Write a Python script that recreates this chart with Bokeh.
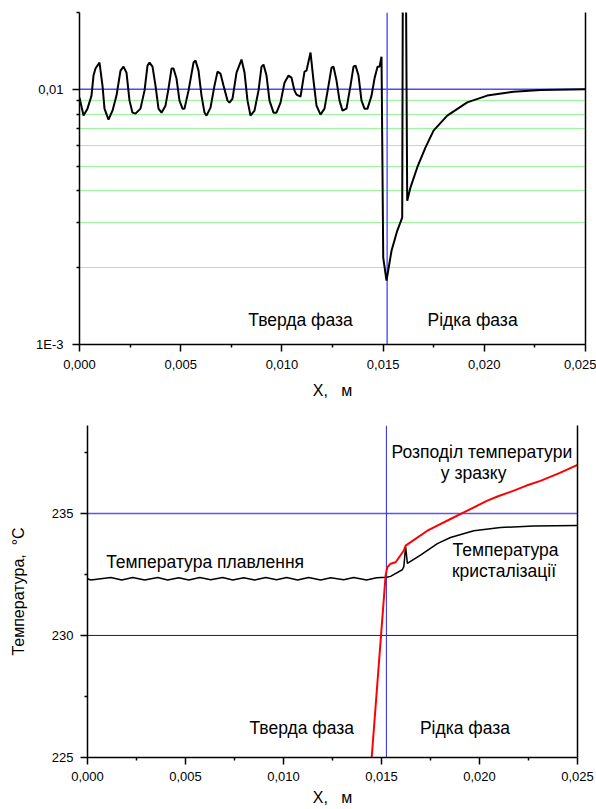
import json
from bokeh.plotting import figure
from bokeh.layouts import column, row
from bokeh.models import (Range1d, FixedTicker, CustomJSTickFormatter, Span, Label,
                          LogAxis, LinearAxis)
from bokeh.embed import file_html
from bokeh.resources import INLINE

FONT = "Liberation Sans"

# ---------------- data: top chart (log scale) ----------------
top_x_mm = [0, 0.198, 0.395, 0.593, 0.692, 0.791, 0.988, 1.136, 1.235, 1.433,
            1.630, 1.828, 2.026, 2.174, 2.322, 2.471, 2.619, 2.767, 3.014, 3.212,
            3.360, 3.459, 3.607, 3.755, 3.903, 4.052, 4.249, 4.397, 4.546, 4.645,
            4.793, 4.941, 5.089, 5.188, 5.386, 5.633, 5.732, 5.880, 6.028, 6.176,
            6.275, 6.473, 6.670, 6.819, 6.967, 7.115, 7.313, 7.412, 7.560, 7.758,
            8.005, 8.153, 8.301, 8.449, 8.647, 8.844, 8.993, 9.091, 9.240, 9.388,
            9.586, 9.734, 9.932, 10.129, 10.327, 10.475, 10.623, 10.722, 10.920, 11.117,
            11.216, 11.414, 11.562, 11.710, 11.908, 12.105, 12.303, 12.451, 12.550, 12.698,
            12.847, 12.995, 13.192, 13.390, 13.538, 13.637, 13.785, 13.933, 14.082, 14.230,
            14.428, 14.576, 14.724, 14.823, 14.922, 15.006, 15.169, 15.416, 15.697, 15.944,
            15.984, 16.108, 16.192, 16.355, 16.686, 17.096, 17.492, 18.169, 19.157, 20.145,
            21.444, 22.779, 25.0]
top_y = [0.00928, 0.00789, 0.00840, 0.00945, 0.01132, 0.01206, 0.01273, 0.01034, 0.00840, 0.00761,
         0.00825, 0.00945, 0.01184, 0.01227, 0.01163, 0.00903, 0.00810, 0.00803, 0.00840, 0.00988,
         0.01239, 0.01273, 0.01227, 0.01034, 0.00840, 0.00810, 0.00863, 0.01006, 0.01206, 0.01206,
         0.01102, 0.00903, 0.00840, 0.00840, 0.00988, 0.01273, 0.01296, 0.01184, 0.00945, 0.00810,
         0.00789, 0.00848, 0.01034, 0.01173, 0.01152, 0.01034, 0.00903, 0.00887, 0.00920, 0.01163,
         0.01308, 0.01163, 0.00903, 0.00789, 0.00825, 0.00988, 0.01227, 0.01250, 0.01132, 0.00903,
         0.00810, 0.00810, 0.00887, 0.01062, 0.01132, 0.01111, 0.00988, 0.00953, 0.00936, 0.01173,
         0.01184, 0.01393, 0.01082, 0.00863, 0.00796, 0.00840, 0.01034, 0.01216, 0.01227, 0.01082,
         0.00903, 0.00825, 0.00840, 0.01034, 0.01227, 0.01239, 0.01132, 0.00903, 0.00840, 0.00840,
         0.00945, 0.01102, 0.01227, 0.01227, 0.01343, 0.00219, 0.00178, 0.00233, 0.00279, 0.00314,
         0.05, 0.05, 0.00366, 0.00413, 0.00494, 0.00592, 0.00689, 0.00789, 0.00889, 0.00945,
         0.00979, 0.00994, 0.0100]

# ---------------- data: bottom chart (temperature) ----------------
melt_x_mm = [0.0, 0.17, 1.19, 1.75, 2.31, 2.92, 3.58, 4.09, 4.66, 5.17,
             5.73, 6.29, 6.90, 7.41, 7.97, 8.53, 9.09, 9.65, 10.16, 10.72,
             11.28, 11.90, 12.41, 13.07, 13.58, 14.24, 14.75, 15.26, 15.46, 16.06,
             16.14, 16.23, 16.32, 16.99, 17.85, 18.52, 19.71, 21.07, 22.76, 25.0]
melt_t = [232.32, 232.27, 232.37, 232.27, 232.37, 232.27, 232.37, 232.27, 232.36, 232.27,
          232.37, 232.28, 232.37, 232.27, 232.36, 232.27, 232.37, 232.28, 232.37, 232.27,
          232.37, 232.27, 232.36, 232.28, 232.37, 232.27, 232.36, 232.38, 232.42, 232.69,
          232.82, 233.64, 232.95, 233.29, 233.76, 234.01, 234.29, 234.42, 234.48, 234.50]

sample_x_mm = [14.50, 15.21, 15.30, 15.47, 15.72, 16.14, 16.23, 16.49, 17.34, 17.67,
               18.52, 19.38, 20.40, 20.95, 21.75, 22.40, 23.11, 24.10, 25.0]
sample_t = [225.0, 232.46, 232.80, 232.94, 233.00, 233.48, 233.68, 233.82, 234.29, 234.43,
            234.77, 235.11, 235.52, 235.70, 235.93, 236.14, 236.33, 236.66, 236.99]

interface_x = 0.0152
x_ticks = [0.0, 0.005, 0.010, 0.015, 0.020, 0.025]
x_minor = [0.0025, 0.0075, 0.0125, 0.0175, 0.0225]
top_y_ticks = [0.001, 0.01]
top_y_labels = ["1E-3", "0,01"]
top_y_minor = [0.002, 0.003, 0.004, 0.005, 0.006, 0.007, 0.008, 0.009, 0.02]
bot_y_ticks = [225, 230, 235]
bot_y_minor = [227.5, 232.5, 237.5]

to_m = lambda arr: [v * 1e-3 for v in arr]

x_fmt = CustomJSTickFormatter(code="return tick.toFixed(3).replace('.', ',');")
ylog_fmt = CustomJSTickFormatter(code=(
    "const t=%s; const l=%s;"
    "for (let i=0;i<t.length;i++){ if (Math.abs(Math.log10(t[i])-Math.log10(tick))<1e-6) return l[i]; }"
    "return '';" % (json.dumps(top_y_ticks), json.dumps(top_y_labels))))


def style_axis(ax, label_size="13px"):
    ax.axis_line_color = "black"
    ax.axis_line_width = 1.5
    ax.major_tick_line_color = "black"
    ax.major_tick_line_width = 1.5
    ax.minor_tick_line_color = "black"
    ax.minor_tick_line_width = 1.5
    ax.major_tick_in = 0
    ax.major_tick_out = 7
    ax.minor_tick_in = 0
    ax.minor_tick_out = 3
    ax.major_label_text_font = FONT
    ax.major_label_text_font_size = label_size
    ax.major_label_text_color = "black"
    ax.axis_label_text_font = FONT
    ax.axis_label_text_font_size = "16px"
    ax.axis_label_text_font_style = "normal"
    ax.axis_label_text_color = "black"


# ---------------- top figure ----------------
p1 = figure(width=596, height=403, x_range=Range1d(0, 0.025), y_range=Range1d(0.001, 0.02),
            y_axis_type="log", output_backend="svg", toolbar_location=None,
            min_border_left=79, min_border_right=11, min_border_top=12, min_border_bottom=59)
p1.outline_line_color = None
p1.xgrid.visible = False
p1.ygrid.ticker = FixedTicker(ticks=top_y_minor)
p1.ygrid.grid_line_color = "#33ee33"
p1.ygrid.grid_line_dash = "1 1"
p1.ygrid.grid_line_width = 1

p1.xaxis.ticker = FixedTicker(ticks=x_ticks, minor_ticks=x_minor)
p1.xaxis.formatter = x_fmt
p1.xaxis.axis_label = "X,\u00a0\u00a0\u00a0м"
p1.xaxis.major_label_standoff = 8
p1.xaxis.axis_label_standoff = 10
p1.yaxis.ticker = FixedTicker(ticks=top_y_ticks, minor_ticks=top_y_minor)
p1.yaxis.formatter = ylog_fmt
p1.yaxis.major_label_standoff = 9
for ax in p1.xaxis + p1.yaxis:
    style_axis(ax)

r1 = LogAxis(ticker=FixedTicker(ticks=[]), major_tick_line_color=None, minor_tick_line_color=None,
             axis_line_color="black", axis_line_width=1.5)
p1.add_layout(r1, "right")

p1.add_layout(Span(location=0.01, dimension="width", line_color="#4a4aff", line_width=1.5, level="underlay"))
p1.add_layout(Span(location=interface_x, dimension="height", line_color="#5a5aff", line_width=1.5, level="underlay"))

p1.line(to_m(top_x_mm), top_y, line_color="black", line_width=2)

for txt, xm, yv in [("Тверда фаза", 10.92, 0.00125), ("Рідка фаза", 19.42, 0.00125)]:
    p1.add_layout(Label(x=xm * 1e-3, y=yv, text=txt, text_align="center", text_baseline="middle",
                        text_font=FONT, text_font_size="17.5px", text_color="black"))

# ---------------- bottom figure ----------------
p2 = figure(width=596, height=406, x_range=Range1d(0, 0.025), y_range=Range1d(225, 238.6),
            output_backend="svg", toolbar_location=None,
            min_border_left=87, min_border_right=19, min_border_top=22, min_border_bottom=52)
p2.outline_line_color = None
p2.grid.visible = False
p2.xaxis.ticker = FixedTicker(ticks=x_ticks, minor_ticks=x_minor)
p2.xaxis.formatter = x_fmt
p2.xaxis.axis_label = "X,\u00a0\u00a0\u00a0м"
p2.xaxis.major_label_standoff = 7
p2.xaxis.axis_label_standoff = 5
p2.yaxis.ticker = FixedTicker(ticks=bot_y_ticks, minor_ticks=bot_y_minor)
p2.yaxis.axis_label = "Температура,\u00a0\u00a0°C"
p2.yaxis.major_label_standoff = 7
p2.yaxis.axis_label_standoff = 22
for ax in p2.xaxis + p2.yaxis:
    style_axis(ax)

r2 = LinearAxis(ticker=FixedTicker(ticks=[]), major_tick_line_color=None, minor_tick_line_color=None,
                axis_line_color="black", axis_line_width=1.5)
p2.add_layout(r2, "right")

p2.add_layout(Span(location=235, dimension="width", line_color="#5555ff", line_width=1.5, level="underlay"))
p2.add_layout(Span(location=230, dimension="width", line_color="#1010b0", line_width=1, level="underlay"))
p2.add_layout(Span(location=interface_x + 0.00005, dimension="height", line_color="#2a2ad8", line_width=1, level="underlay"))

p2.line(to_m(melt_x_mm), melt_t, line_color="black", line_width=1.5)
p2.line(to_m(sample_x_mm), sample_t, line_color="#ff0000", line_width=2)

labels2 = [("Температура плавлення", 6.0, 233.0),
           ("Розподіл температури", 20.12, 237.53),
           ("у зразку", 19.70, 236.67),
           ("Температура", 21.33, 233.48),
           ("кристалізації", 21.25, 232.63),
           ("Тверда фаза", 10.93, 226.21),
           ("Рідка фаза", 19.26, 226.21)]
for txt, xm, yv in labels2:
    p2.add_layout(Label(x=xm * 1e-3, y=yv, text=txt, text_align="center", text_baseline="middle",
                        text_font=FONT, text_font_size="17.5px", text_color="black"))

layout = column(row(p1), row(p2))
with open("out.html", "w", encoding="utf-8") as f:
    f.write(file_html(layout, INLINE))
